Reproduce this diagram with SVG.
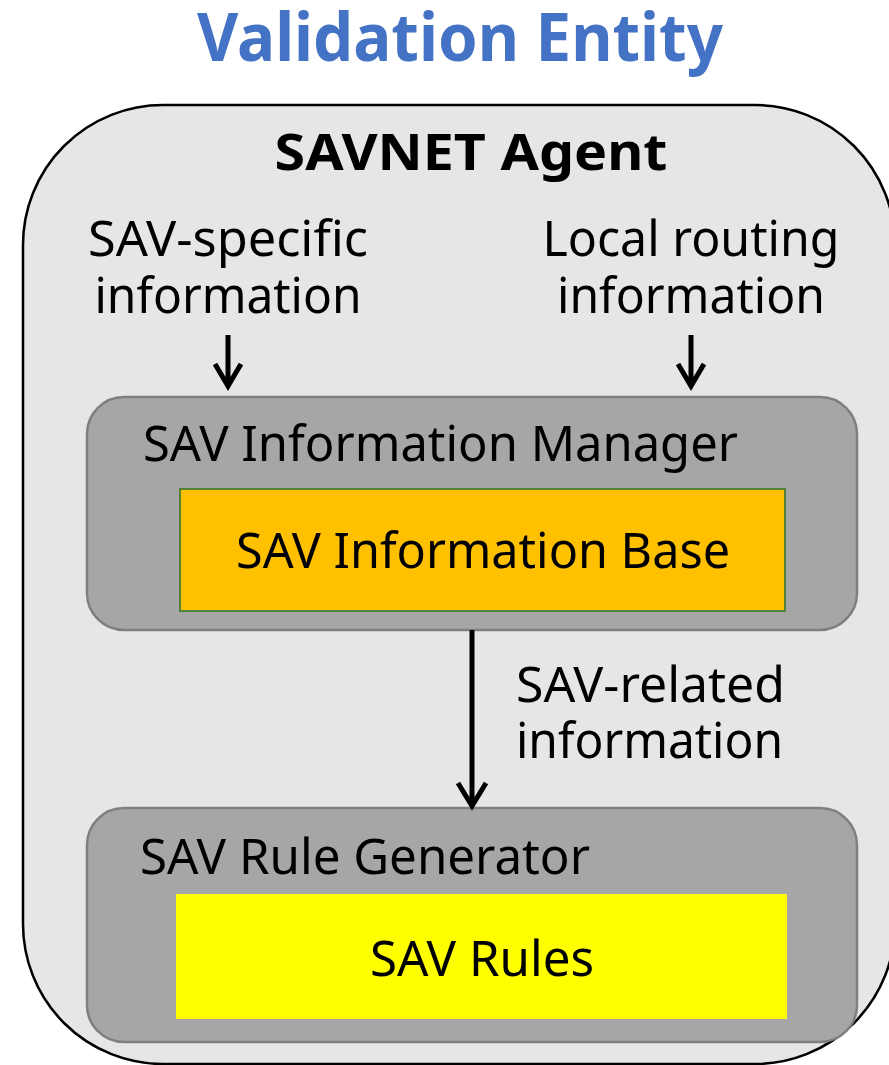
<svg xmlns="http://www.w3.org/2000/svg" width="889" height="1065" viewBox="0 0 889 1065">
<defs>
<style>
text{font-family:"Noto Sans","Open Sans","Liberation Sans",sans-serif;fill:#000}
.t{font-size:50px}
.b{font-weight:bold}
.box{fill:#a6a6a6;stroke:#7f7f7f;stroke-width:2.5}
.conn{stroke:#000;stroke-width:5;fill:none}
</style>
</defs>
<rect width="889" height="1065" fill="#fff"/>
<text x="460" y="61" text-anchor="middle" class="b" style="font-size:67px;fill:#4472c4" textLength="526" lengthAdjust="spacingAndGlyphs">Validation Entity</text>
<g id="agent">
<rect x="23" y="105" width="872" height="959" rx="140" ry="140" fill="#e6e6e6" stroke="#000" stroke-width="2.5"/>
<text x="471" y="170" text-anchor="middle" class="b" style="font-size:51px" textLength="393" lengthAdjust="spacingAndGlyphs">SAVNET Agent</text>
</g>
<g id="sav-specific">
<text text-anchor="middle" class="t"><tspan x="228" y="256" textLength="280" lengthAdjust="spacingAndGlyphs">SAV-specific</tspan><tspan x="228" y="313" textLength="267" lengthAdjust="spacingAndGlyphs">information</tspan></text>
</g>
<g id="local-routing">
<text text-anchor="middle" class="t"><tspan x="691" y="256" textLength="297" lengthAdjust="spacingAndGlyphs">Local routing</tspan><tspan x="691" y="313" textLength="268" lengthAdjust="spacingAndGlyphs">information</tspan></text>
</g>
<g id="manager">
<rect class="box" x="87" y="397" width="770" height="233" rx="37"/>
<text x="143" y="461" class="t" textLength="595" lengthAdjust="spacingAndGlyphs">SAV Information Manager</text>
</g>
<g id="info-base">
<rect x="180" y="489" width="605" height="122" fill="#ffc000" stroke="#538135" stroke-width="2"/>
<text x="483" y="568" text-anchor="middle" class="t" textLength="494" lengthAdjust="spacingAndGlyphs">SAV Information Base</text>
</g>
<g id="generator">
<rect class="box" x="87" y="808" width="770" height="234" rx="37"/>
<text x="140" y="874" class="t" textLength="450" lengthAdjust="spacingAndGlyphs">SAV Rule Generator</text>
</g>
<g id="rules">
<rect x="176" y="894" width="611" height="125" fill="#ffff00"/>
<text x="482" y="976" text-anchor="middle" class="t" textLength="224" lengthAdjust="spacingAndGlyphs">SAV Rules</text>
</g>
<g id="sav-related">
<text class="t"><tspan x="516" y="702" textLength="269" lengthAdjust="spacingAndGlyphs">SAV-related</tspan><tspan x="516" y="758" textLength="267" lengthAdjust="spacingAndGlyphs">information</tspan></text>
</g>
<g id="connectors" class="conn">
<path d="M228 335V386M215 364L228 386L241 364"/>
<path d="M691 335V386M678 364L691 386L704 364"/>
<path d="M472 630V806M458 783L472 806L486 783"/>
</g>
</svg>
